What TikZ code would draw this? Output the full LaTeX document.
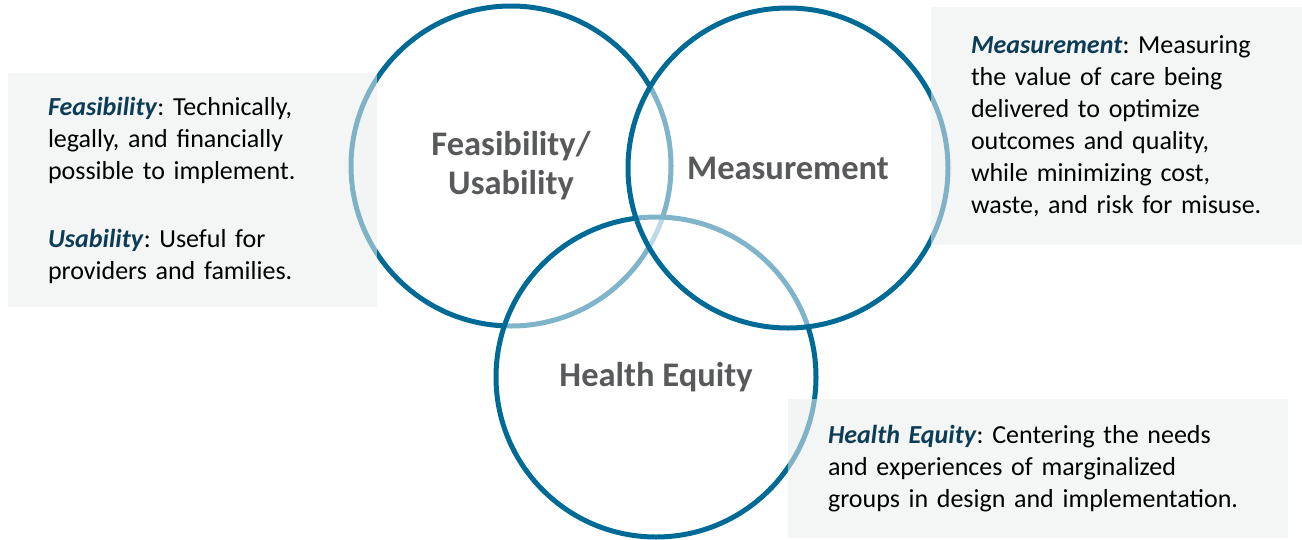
\documentclass[tikz,border=0pt]{standalone}
\usepackage{fontspec}
\setmainfont{Carlito}
\frenchspacing
\definecolor{ringblue}{RGB}{0,106,150}
\definecolor{labelgray}{RGB}{88,89,91}
\definecolor{termblue}{RGB}{12,60,86}
\definecolor{panelgray}{RGB}{234,238,236}
\newcommand{\term}[1]{\textcolor{termblue}{\textbf{\textit{#1}}}}

\begin{document}
\begin{tikzpicture}[x=1pt,y=-1pt]
\tikzstyle{ring}=[circle, draw=ringblue, line width=5pt, fill=white, fill opacity=0.5, text opacity=1, minimum size=320pt, inner sep=0pt, text=labelgray, align=center, font=\fontsize{34.5}{39}\selectfont\bfseries]
\tikzstyle{panel}=[rectangle, fill=panelgray, fill opacity=0.55, text opacity=1, inner xsep=40pt, inner ysep=0pt, align=left, font=\fontsize{26}{32}\selectfont]
\useasboundingbox (0,0) rectangle (1302,539);
% the three rings, later ones wash out the ones below
\node[ring] (feas) at (511,166) {Feasibility/\\Usability};
\node[ring] (health) at (656,377) {Health Equity};
\node[ring] (meas) at (788,168) {Measurement};
% text panels on top
\node[panel, text width=289pt, minimum height=234pt] (feaspanel) at (192.5,190) {\term{Feasibility}: Technically,\\legally, and financially\\possible to implement.\\[36pt]\term{Usability}: Useful for\\providers and families.};
\node[panel, text width=291pt, minimum height=238pt] (measpanel) at (1116.5,126) {\term{Measurement}: Measuring\\the value of care being\\delivered to optimize\\outcomes and quality,\\while minimizing cost,\\waste, and risk for misuse.};
\node[panel, text width=420pt, minimum height=139pt] (healthpanel) at (1038,468.5) {\term{Health Equity}: Centering the needs\\and experiences of marginalized\\groups in design and implementation.};
\end{tikzpicture}
\end{document}
